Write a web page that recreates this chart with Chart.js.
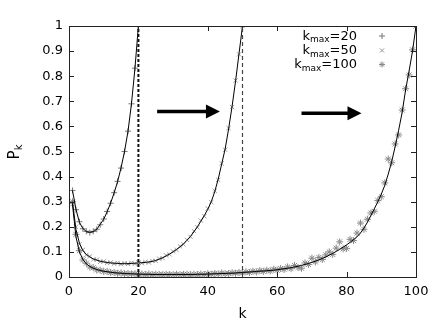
<!DOCTYPE html>
<html><head><meta charset="utf-8">
<script src="https://cdn.jsdelivr.net/npm/chart.js@4.4.1/dist/chart.umd.min.js"></script>
<style>html,body{margin:0;padding:0;background:#fff;overflow:hidden}#wrap{width:443px;height:333px;position:relative}</style>
</head><body><div id="wrap"><canvas id="c" width="443" height="333"></canvas></div>
<script>
// ---- data ----
const seriesNames = ['20', '50', '100'];
const xTicks = [0, 20, 40, 60, 80, 100];
const yTicks = [0, 0.1, 0.2, 0.3, 0.4, 0.5, 0.6, 0.7, 0.8, 0.9, 1];

const fit20 = [0.345,0.27,0.218,0.193,0.181,0.178,0.181,0.19,0.21,0.23,
               0.26,0.295,0.335,0.38,0.435,0.5,0.58,0.69,0.83,1.0];
const pts20 = [0.345,0.268,0.22,0.192,0.182,0.177,0.182,0.19,0.208,0.231,
               0.261,0.294,0.336,0.381,0.434,0.5,0.581,0.69,0.832,1.0];

const fit50 = [0.30,0.19,0.135,0.105,0.09,0.08,0.072,0.067,0.063,0.06,
               0.058,0.056,0.055,0.054,0.053,0.053,0.053,0.054,0.055,0.056,
               0.057,0.058,0.06,0.062,0.066,0.071,0.077,0.084,0.092,0.10,
               0.11,0.12,0.132,0.146,0.162,0.18,0.20,0.222,0.245,0.27,
               0.30,0.34,0.39,0.45,0.51,0.59,0.68,0.78,0.89,1.0];
const pts50 = [0.29,0.2,0.13,0.108,0.088,0.082,0.07,0.069,0.061,0.062,
               0.056,0.058,0.053,0.056,0.051,0.055,0.052,0.056,0.053,0.058,
               0.055,0.06,0.058,0.064,0.064,0.073,0.075,0.086,0.09,0.102,
               0.108,0.122,0.13,0.148,0.16,0.183,0.198,0.225,0.242,0.273,
               0.298,0.343,0.387,0.453,0.507,0.593,0.677,0.783,0.887,1.0];

const fit100 = [0.29,0.16,0.10,0.07,0.052,0.042,0.035,0.03,0.026,0.023,
                0.021,0.019,0.017,0.016,0.015,0.014,0.013,0.013,0.012,0.012,
                0.011,0.011,0.011,0.010,0.010,0.010,0.010,0.010,0.010,0.010,
                0.010,0.010,0.010,0.010,0.010,0.010,0.011,0.011,0.011,0.012,
                0.012,0.013,0.013,0.014,0.014,0.015,0.015,0.016,0.017,0.018,
                0.019,0.020,0.021,0.022,0.023,0.024,0.025,0.026,0.027,0.029,
                0.031,0.033,0.035,0.037,0.040,0.043,0.046,0.050,0.054,0.058,
                0.063,0.068,0.074,0.080,0.087,0.094,0.102,0.110,0.119,0.128,
                0.138,0.149,0.160,0.175,0.195,0.218,0.245,0.272,0.300,0.330,
                0.365,0.410,0.460,0.520,0.585,0.655,0.745,0.820,0.900,1.000];
const pts100 = [0.30,0.17,0.105,0.068,0.055,0.040,0.037,0.028,0.027,0.022,
                0.022,0.018,0.018,0.015,0.016,0.013,0.014,0.012,0.013,0.011,
                0.012,0.010,0.012,0.009,0.011,0.010,0.009,0.011,0.010,0.009,
                0.011,0.009,0.010,0.011,0.009,0.011,0.010,0.012,0.010,0.013,
                0.011,0.014,0.012,0.016,0.013,0.014,0.017,0.015,0.018,0.016,
                0.021,0.018,0.023,0.020,0.026,0.022,0.027,0.024,0.031,0.027,
                0.034,0.030,0.040,0.033,0.046,0.038,0.035,0.056,0.050,0.075,
                0.060,0.078,0.070,0.088,0.100,0.090,0.115,0.140,0.112,0.114,
                0.150,0.145,0.175,0.215,0.190,0.230,0.255,0.262,0.305,0.320,
                0.375,0.470,0.455,0.530,0.566,0.665,0.750,0.805,0.905,1.000];

const cutoffK = [20, 50];
const arrowFromK = [25.4, 67];
const arrowToK = [43.5, 84.3];
const arrowAtP = [0.659, 0.652];

// ---- helpers ----
const toXY = arr => arr.map((v, i) => ({x: i + 1, y: v}));
const FONT = '"DejaVu Sans", "Liberation Sans", sans-serif';
const markerStyles = ['cross', 'crossRot', 'star'];
const markerColors = ['#777', '#999', '#888'];

const fitDs = (arr) => ({type: 'line', data: toXY(arr), borderColor: '#000', borderWidth: 1,
  pointRadius: 0, fill: false, tension: 0, order: 1});
const ptDs = (arr, i, r) => ({type: 'line', data: toXY(arr), showLine: false,
  pointStyle: markerStyles[i], pointRadius: r, pointBorderColor: markerColors[i],
  pointBackgroundColor: markerColors[i], pointBorderWidth: 1, borderColor: markerColors[i], order: 2});
const vDs = (k, color, w, dash) => ({type: 'line', data: [{x: k, y: 0}, {x: k, y: 1}],
  borderColor: color, borderWidth: w, borderDash: dash, pointRadius: 0, fill: false, order: 0});

const frame = {
  id: 'frame',
  afterDatasetsDraw(chart) {
    const {ctx, chartArea: a, scales: {x, y}} = chart;
    ctx.save();
    // arrows
    ctx.fillStyle = '#000'; ctx.strokeStyle = '#000';
    for (let i = 0; i < arrowFromK.length; i++) {
      const x0 = x.getPixelForValue(arrowFromK[i]), x1 = x.getPixelForValue(arrowToK[i]);
      const yy = y.getPixelForValue(arrowAtP[i]);
      ctx.lineWidth = 3.5;
      ctx.beginPath(); ctx.moveTo(x0, yy); ctx.lineTo(x1 - 12, yy); ctx.stroke();
      ctx.beginPath(); ctx.moveTo(x1, yy); ctx.lineTo(x1 - 14, yy - 7); ctx.lineTo(x1 - 14, yy + 7); ctx.closePath(); ctx.fill();
    }
    // border + inward ticks
    ctx.lineWidth = 1; ctx.strokeStyle = '#222';
    ctx.strokeRect(Math.round(a.left) + 0.5, Math.round(a.top) + 0.5, Math.round(a.right - a.left), Math.round(a.bottom - a.top));
    ctx.beginPath();
    yTicks.forEach(v => {
      const py = Math.round(y.getPixelForValue(v)) + 0.5;
      ctx.moveTo(a.left, py); ctx.lineTo(a.left + 5, py);
      ctx.moveTo(a.right, py); ctx.lineTo(a.right - 5, py);
    });
    xTicks.forEach(v => {
      const px = Math.round(x.getPixelForValue(v)) + 0.5;
      ctx.moveTo(px, a.bottom); ctx.lineTo(px, a.bottom - 5);
      ctx.moveTo(px, a.top); ctx.lineTo(px, a.top + 5);
    });
    ctx.stroke();
    // axis titles
    ctx.fillStyle = '#000';
    ctx.font = '14px ' + FONT;
    ctx.textAlign = 'center'; ctx.textBaseline = 'alphabetic';
    ctx.fillText('k', (a.left + a.right) / 2, 318);
    ctx.save();
    ctx.translate(19, 152); ctx.rotate(-Math.PI / 2);
    ctx.textAlign = 'left';
    ctx.font = '15px ' + FONT;
    const pw = ctx.measureText('P').width;
    ctx.font = '10px ' + FONT;
    const kw = ctx.measureText('k').width;
    const sx = -(pw + kw) / 2;
    ctx.font = '15px ' + FONT; ctx.fillText('P', sx, 0);
    ctx.font = '10px ' + FONT; ctx.fillText('k', sx + pw, 3);
    ctx.restore();
    // legend
    const rows = [39.5, 54, 68];
    rows.forEach((by, i) => {
      ctx.fillStyle = '#000';
      ctx.textAlign = 'left';
      ctx.font = '13px ' + FONT;
      const tail = '=' + seriesNames[i];
      const tw = ctx.measureText(tail).width;
      const kw2 = ctx.measureText('k').width;
      ctx.font = '9px ' + FONT;
      const mw = ctx.measureText('max').width;
      const right = 357;
      const x0 = right - tw - mw - kw2;
      ctx.font = '13px ' + FONT;
      ctx.fillText('k', x0, by);
      ctx.fillText(tail, x0 + kw2 + mw, by);
      ctx.font = '9px ' + FONT;
      ctx.fillText('max', x0 + kw2, by + 2.5);
      ctx.strokeStyle = markerColors[i];
      ctx.fillStyle = markerColors[i];
      ctx.lineWidth = 1;
      Chart.helpers.drawPoint(ctx, {pointStyle: markerStyles[i], radius: 3, borderWidth: 1, rotation: 0},
        382, by - 3.5);
    });
    ctx.restore();
  }
};

new Chart(document.getElementById('c'), {
  type: 'line',
  data: {
    datasets: [
      fitDs(fit20), fitDs(fit50), fitDs(fit100),
      ptDs(pts20, 0, 3),
      ptDs(pts50, 1, 3),
      ptDs(pts100, 2, 3.5),
      vDs(cutoffK[0], '#111', 2, [3, 2]),
      vDs(cutoffK[1], '#444', 1.2, [4, 3])
    ]
  },
  options: {
    responsive: false, animation: false, devicePixelRatio: 1,
    layout: {padding: {left: 0, top: 26, right: 27, bottom: 0}},
    plugins: {legend: {display: false}, tooltip: {enabled: false}},
    scales: {
      x: {type: 'linear', min: 0, max: 100,
        afterFit: s => { s.height = 56; },
        afterBuildTicks: s => { s.ticks = xTicks.map(v => ({value: v})); },
        grid: {display: false, drawTicks: false}, border: {display: false},
        ticks: {padding: 7, color: '#000', maxRotation: 0, font: {family: FONT, size: 13}}},
      y: {type: 'linear', min: 0, max: 1,
        afterFit: s => { s.width = 69; },
        afterBuildTicks: s => { s.ticks = yTicks.map(v => ({value: v})); },
        grid: {display: false, drawTicks: false}, border: {display: false},
        ticks: {padding: 6, color: '#000', font: {family: FONT, size: 13},
          callback: v => String(+v.toFixed(1))}}
    }
  },
  plugins: [frame]
});
</script></body></html>
